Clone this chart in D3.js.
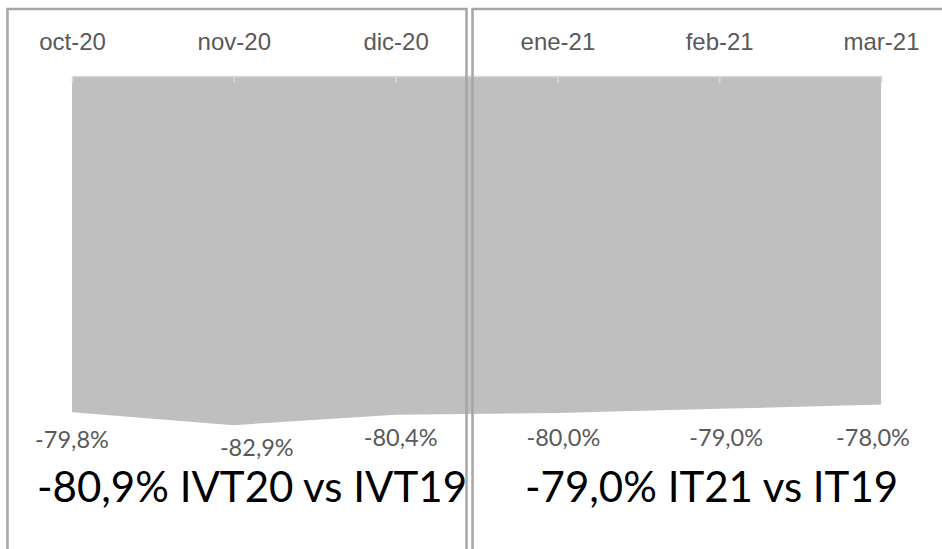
<!DOCTYPE html>
<html>
<head>
<meta charset="utf-8">
<script src="https://cdn.jsdelivr.net/npm/d3@7"></script>
<style>
  body { margin: 0; background: #fff; }
  svg { display: block; font-family: Lato, "Open Sans", sans-serif; }
</style>
</head>
<body>
<div id="chart"></div>
<script>
// months and monthly change vs 2019 (%)
var months = ["oct-20", "nov-20", "dic-20", "ene-21", "feb-21", "mar-21"];
var values = [-79.8, -82.9, -80.4, -80.0, -79.0, -78.0];
var labels = ["-79,8%", "-82,9%", "-80,4%", "-80,0%", "-79,0%", "-78,0%"];
// quarter summaries
var summaries = ["-80,9% IVT20 vs IVT19", "-79,0% IT21 vs IT19"];

document.addEventListener("DOMContentLoaded", function() {

    var width = 942, height = 549;
    var axisY = 76;

    var svg = d3.select("#chart").append("svg")
        .attr("width", width)
        .attr("height", height);

    var xScale = d3.scalePoint()
        .domain(months)
        .range([72, 881]);

    // 0 at the top axis, negative values go down
    var yScale = d3.scaleLinear()
        .domain([0, -100])
        .range([axisY + 1, axisY + 421]);

    var data = months.map((m, i) => ({ month: m, value: values[i], label: labels[i] }));

    var area = d3.area()
        .x(d => xScale(d.month))
        .y0(yScale(0))
        .y1(d => yScale(d.value));

    svg.append("path")
        .datum(data)
        .attr("d", area)
        .attr("fill", "#bfbfbf");

    // category axis on top, ticks pointing down into the area
    var axis = svg.append("g")
        .attr("transform", `translate(0,${axisY})`)
        .call(d3.axisTop(xScale).tickSizeInner(-7).tickSizeOuter(0).tickPadding(26));

    axis.select(".domain").attr("stroke", "#d9d9d9").attr("stroke-width", 1.5);
    axis.selectAll(".tick line").attr("stroke", "#d9d9d9").attr("stroke-width", 1.5);
    axis.selectAll(".tick text")
        .attr("fill", "#595959")
        .style("font-size", "24px");

    // data labels, nudged a little like the original
    var labelDx = [0, 23, 5, 6, 7, -8];
    var labelDy = [448, 456, 446, 446, 446, 446];

    svg.selectAll(".dlabel")
        .data(data)
        .enter()
        .append("text")
        .attr("class", "dlabel")
        .attr("x", (d, i) => xScale(d.month) + labelDx[i])
        .attr("y", (d, i) => labelDy[i])
        .attr("text-anchor", "middle")
        .attr("fill", "#595959")
        .style("font-size", "23.5px")
        .text(d => d.label);

    // big summary texts
    svg.selectAll(".summary")
        .data(summaries)
        .enter()
        .append("text")
        .attr("class", "summary")
        .attr("x", (d, i) => i === 0 ? 37 : 525)
        .attr("y", 502)
        .attr("fill", "#000")
        .style("font-size", "42px")
        .text(d => d);

    // two panel frames drawn over the area
    svg.append("rect")
        .attr("x", 7.5).attr("y", 9)
        .attr("width", 459).attr("height", 600)
        .attr("fill", "none")
        .attr("stroke", "#a6a6a6")
        .attr("stroke-width", 2.5);

    svg.append("rect")
        .attr("x", 472.5).attr("y", 9)
        .attr("width", 520).attr("height", 600)
        .attr("fill", "none")
        .attr("stroke", "#a6a6a6")
        .attr("stroke-width", 2.5);
});
</script>
</body>
</html>
